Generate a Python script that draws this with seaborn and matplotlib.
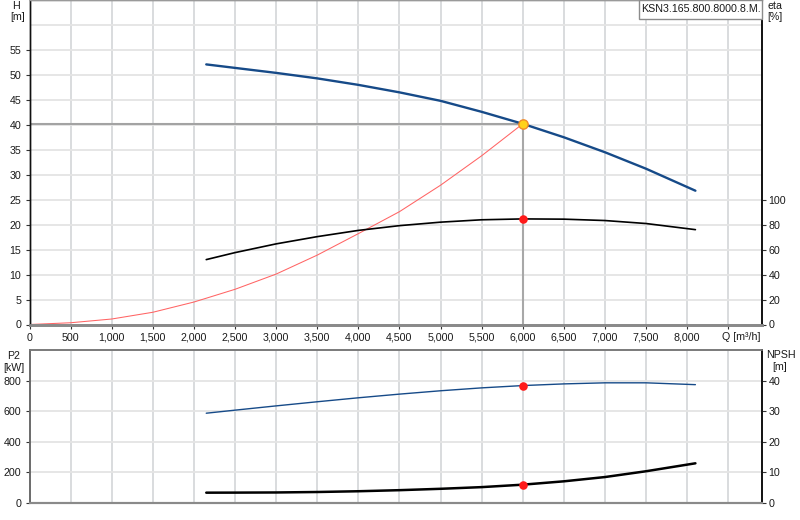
import matplotlib
matplotlib.use("Agg")
import matplotlib.pyplot as plt
from matplotlib.patches import Rectangle
import seaborn as sns

# ---- data ----
flow = [2150, 2500, 3000, 3500, 4000, 4500, 5000, 5500, 6000, 6500, 7000, 7500, 8100]
head = [52.1, 51.4, 50.4, 49.3, 48.0, 46.5, 44.8, 42.6, 40.2, 37.5, 34.5, 31.2, 26.8]
eta = [52.0, 57.6, 64.6, 70.4, 75.4, 79.2, 82.0, 83.9, 84.6, 84.4, 83.3, 80.9, 76.0]
p2 = [588, 608, 636, 663, 689, 713, 735, 754, 769, 780, 787, 787, 775]
npsh = [3.38, 3.4, 3.45, 3.6, 3.85, 4.2, 4.65, 5.2, 6.0, 7.1, 8.5, 10.4, 13.0]

sys_flow = [0, 500, 1000, 1500, 2000, 2500, 3000, 3500, 4000, 4500, 5000, 5500, 6000]
sys_head = [0, 0.35, 1.1, 2.45, 4.5, 7.05, 10.1, 13.9, 18.2, 22.6, 27.9, 33.8, 40.2]

duty_q = 6000
duty_h = 40.2
duty_eta = 84.6
duty_p2 = 769
duty_npsh = 6.0

x_ticks = [0, 500, 1000, 1500, 2000, 2500, 3000, 3500, 4000, 4500, 5000, 5500, 6000, 6500, 7000, 7500, 8000, 8500]
x_labels = ["0", "500", "1,000", "1,500", "2,000", "2,500", "3,000", "3,500", "4,000", "4,500",
            "5,000", "5,500", "6,000", "6,500", "7,000", "7,500", "8,000", ""]
h_ticks = [0, 5, 10, 15, 20, 25, 30, 35, 40, 45, 50, 55]
eta_ticks = [0, 20, 40, 60, 80, 100]
p2_ticks = [0, 200, 400, 600, 800]
npsh_ticks = [0, 10, 20, 30, 40]
pump_name = "KSN3.165.800.8000.8.M."

# ---- style ----
sns.set_style("white")
plt.rcParams["font.family"] = ["Liberation Sans", "DejaVu Sans"]
FS = 7.7
plt.rcParams["font.size"] = FS

W, H = 800, 520
fig = plt.figure(figsize=(8, 5.2), dpi=100)

def fx(px):
    return px / W

def fy(py):
    return 1 - py / H

left_px, right_px = 29.5, 762
ax1 = fig.add_axes([fx(left_px), fy(324.5), fx(right_px - left_px), 324.5 / H])
ax2 = ax1.twinx()
ax3 = fig.add_axes([fx(left_px), fy(503), fx(right_px - left_px), (503 - 350.3) / H])
ax4 = ax3.twinx()

XMAX = 8910
vgrid = "#cfd2d5"
hgrid = "#e4e4e4"
blue = "#164a88"
text_c = "#1a1a1a"

for a in (ax1, ax3):
    a.set_xlim(0, XMAX)
ax1.set_ylim(0, 65)
ax2.set_ylim(0, 260)
ax3.set_ylim(0, 1000)
ax4.set_ylim(0, 50)

# grids
for xv in x_ticks[1:]:
    ax1.axvline(xv, color=vgrid, lw=1.1, zorder=0)
    ax3.axvline(xv, color=vgrid, lw=1.1, zorder=0)
for yv in h_ticks[1:] + [60]:
    ax1.axhline(yv, color=hgrid, lw=1.3, zorder=0)
for yv in p2_ticks[1:]:
    ax3.axhline(yv, color=hgrid, lw=1.3, zorder=0)

# duty crosshair
ax1.plot([0, duty_q], [duty_h, duty_h], color="#a3a3a3", lw=1.5, zorder=1)
ax1.plot([duty_q, duty_q], [0, duty_h], color="#a8a8a8", lw=1.5, zorder=1)

# curves
sns.lineplot(x=sys_flow, y=sys_head, ax=ax1, color="#ff6464", lw=0.75, sort=False, estimator=None, zorder=2)
sns.lineplot(x=flow, y=head, ax=ax1, color=blue, lw=1.7, sort=False, estimator=None, zorder=3)
sns.lineplot(x=flow, y=eta, ax=ax2, color="black", lw=1.2, sort=False, estimator=None, zorder=3)
sns.lineplot(x=flow, y=p2, ax=ax3, color=blue, lw=1.0, sort=False, estimator=None, zorder=3)
sns.lineplot(x=flow, y=npsh, ax=ax4, color="black", lw=1.8, sort=False, estimator=None, zorder=3)

# points
sns.scatterplot(x=[duty_q], y=[duty_h], ax=ax1, s=45, color="#ffd21a", edgecolor="#f08a2a", linewidth=1.0, zorder=5)
sns.scatterplot(x=[duty_q], y=[duty_eta], ax=ax2, s=38, color="#ff1a1a", edgecolor="#ff1a1a", linewidth=0, zorder=5)
sns.scatterplot(x=[duty_q], y=[duty_p2], ax=ax3, s=38, color="#ff1a1a", edgecolor="#ff1a1a", linewidth=0, zorder=5)
sns.scatterplot(x=[duty_q], y=[duty_npsh], ax=ax4, s=38, color="#ff1a1a", edgecolor="#ff1a1a", linewidth=0, zorder=5)

# ticks
ax1.set_xticks(x_ticks)
ax1.set_xticklabels(x_labels)
ax1.set_yticks(h_ticks)
ax2.set_yticks(eta_ticks)
ax3.set_xticks([])
ax3.set_yticks(p2_ticks)
ax4.set_yticks(npsh_ticks)

ax1.tick_params(axis="x", bottom=True, length=3, width=0.8, color="#333333", pad=3.0, labelcolor=text_c)
ax1.tick_params(axis="y", left=True, length=3, width=0.8, color="#333333", pad=3.0, labelcolor=text_c)
ax2.tick_params(axis="y", right=True, length=3, width=0.8, color="#333333", pad=1.6, labelcolor=text_c)
ax3.tick_params(axis="y", left=True, length=3, width=0.8, color="#333333", pad=3.0, labelcolor=text_c)
ax4.tick_params(axis="y", right=True, length=3, width=0.8, color="#333333", pad=1.6, labelcolor=text_c)

for a in (ax1, ax2, ax3, ax4):
    a.set_xlabel("")
    a.set_ylabel("")
    a.set_facecolor("none")
ax1.set_facecolor("white")
ax3.set_facecolor("white")

# spines
for a in (ax1, ax2):
    a.spines["top"].set_color("#9a9a9a"); a.spines["top"].set_linewidth(1.0)
    a.spines["bottom"].set_color("#8a8a8a"); a.spines["bottom"].set_linewidth(2.0)
    a.spines["left"].set_color("#111111"); a.spines["left"].set_linewidth(1.0)
    a.spines["right"].set_color("#111111"); a.spines["right"].set_linewidth(1.2)
for a in (ax3, ax4):
    a.spines["top"].set_color("#7a7a7a"); a.spines["top"].set_linewidth(1.2)
    a.spines["bottom"].set_color("#8a8a8a"); a.spines["bottom"].set_linewidth(1.5)
    a.spines["left"].set_color("#6a6a6a"); a.spines["left"].set_linewidth(1.2)
    a.spines["right"].set_color("#111111"); a.spines["right"].set_linewidth(1.2)

# Q axis label in place of the 8500 tick label
ax1.annotate("Q [m³/h]", xy=(8500, 0), xycoords=("data", "axes fraction"),
             xytext=(-4.5, -5.1), textcoords="offset points", ha="left", va="top",
             color=text_c, fontsize=FS)

# axis titles
def ftxt(px, py, s):
    fig.text(fx(px), fy(py), s, ha="center", va="center", color=text_c, fontsize=FS)

ftxt(16.3, 5.8, "H")
ftxt(17.5, 17.5, "[m]")
ftxt(774.5, 5.8, "eta")
ftxt(774.5, 17.5, "[%]")
ftxt(14, 356, "P2")
ftxt(13.7, 368, "[kW]")
ftxt(780.5, 355.5, "NPSH")
ftxt(780, 367.5, "[m]")

# pump name box
fig.patches.append(Rectangle((fx(639), fy(19)), fx(762 - 639), 19 / H, transform=fig.transFigure,
                             facecolor="white", edgecolor="#8c8c8c", lw=1.0, zorder=5))
fig.text(fx(701.5), fy(9.5), pump_name, ha="center", va="center", color=text_c, fontsize=FS, zorder=6)

fig.savefig("out.png", dpi=100, facecolor="white")
